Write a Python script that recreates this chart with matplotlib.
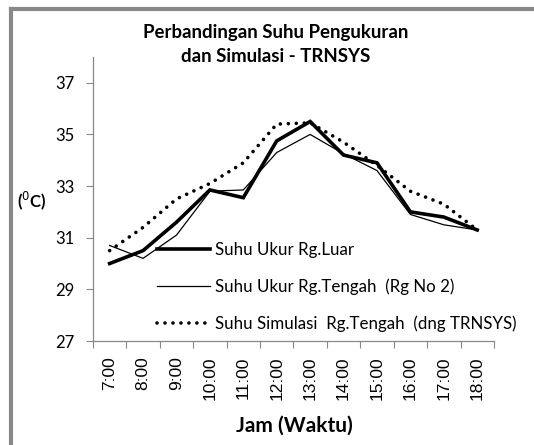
import matplotlib.pyplot as plt
from matplotlib.lines import Line2D

# Data
jam = ["7:00", "8:00", "9:00", "10:00", "11:00", "12:00",
       "13:00", "14:00", "15:00", "16:00", "17:00", "18:00"]
suhu_luar = [30.0, 30.5, 31.6, 32.85, 32.55, 34.75, 35.5, 34.2, 33.9, 32.0, 31.8, 31.3]
suhu_tengah = [30.7, 30.2, 31.1, 32.8, 32.85, 34.3, 35.0, 34.25, 33.6, 31.9, 31.5, 31.3]
suhu_simulasi = [30.5, 31.4, 32.5, 33.1, 33.9, 35.4, 35.45, 34.7, 33.8, 32.8, 32.3, 31.3]
y_ticks = [27, 29, 31, 33, 35, 37]

labels = ["Suhu Ukur Rg.Luar",
          "Suhu Ukur Rg.Tengah  (Rg No 2)",
          "Suhu Simulasi  Rg.Tengah  (dng TRNSYS)"]

font_main = ["Lato", "DejaVu Sans"]

fig = plt.figure(figsize=(5.34, 4.45), dpi=100)
ax = fig.add_axes([0.174, 0.2337, 0.751, 0.6383])

x = list(range(len(jam)))
ax.plot(x, suhu_luar, color="black", linewidth=2.6, solid_joinstyle="miter", label=labels[0])
ax.plot(x, suhu_tengah, color="black", linewidth=0.9, label=labels[1])
ax.plot(x, suhu_simulasi, color="black", linewidth=2.6, linestyle=(0, (0.01, 2.2)),
        dash_capstyle="round", label=labels[2])

ax.set_xlim(-0.5, len(jam) - 0.5)
ax.set_ylim(27, 38)

# category ticks between labels, like the spreadsheet axis
ax.set_xticks([i - 0.5 for i in range(len(jam) + 1)])
ax.set_xticklabels([])
ax.set_xticks(x, minor=True)
ax.set_xticklabels(jam, minor=True, rotation=90, fontsize=12.5,
                   family=["Liberation Sans", "DejaVu Sans"])
ax.tick_params(axis="x", which="minor", length=0, pad=11)
ax.tick_params(axis="x", which="major", length=5, color="#888888", direction="out")

ax.set_yticks(y_ticks)
ax.set_yticklabels([str(v) for v in y_ticks], family=font_main, fontsize=12)
ax.tick_params(axis="y", length=5, color="#888888", direction="out", pad=8)

for side in ["top", "right"]:
    ax.spines[side].set_visible(False)
for side in ["left", "bottom"]:
    ax.spines[side].set_color("#888888")
    ax.spines[side].set_linewidth(0.9)

fig.text(0.517, 0.9, "Perbandingan Suhu Pengukuran\ndan Simulasi - TRNSYS",
         ha="center", va="center", fontsize=13.4, fontweight="bold",
         family=font_main, linespacing=1.55)
fig.text(0.552, 0.043, "Jam (Waktu)", ha="center", va="center",
         fontsize=15, fontweight="bold", family=font_main)
fig.text(0.06, 0.548, r"($^0$C)", ha="center", va="center",
         fontsize=12, fontweight="bold", family=font_main)

leg = ax.legend(loc="center left", bbox_to_anchor=(0.16, 0.19), frameon=False,
                borderpad=0, borderaxespad=0, handlelength=3.1, handletextpad=0.3,
                labelspacing=1.2, prop={"family": font_main, "size": 12.2})

# grey chart-area border (only top and left show in the crop)
fig.add_artist(Line2D([0.021, 0.021], [0.0, 0.98], transform=fig.transFigure,
                      color="#888888", linewidth=3))
fig.add_artist(Line2D([0.021, 1.0], [0.98, 0.98], transform=fig.transFigure,
                      color="#888888", linewidth=3))

fig.savefig("out.png", dpi=100)
